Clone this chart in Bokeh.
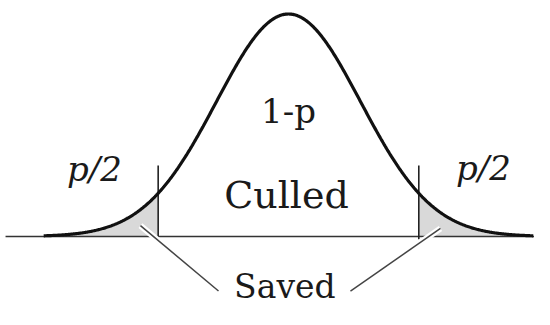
import numpy as np
from bokeh.plotting import figure
from bokeh.models import Range1d
from bokeh.embed import file_html
from bokeh.resources import INLINE
from bokeh.core.properties import value

# ---- data: a normal density (in SD units) truncated at +/- cutoff ----
MEAN = 0.0
SD = 1.0
CUTOFF = 1.81          # truncation point in SD units
CURVE_LIMIT = 3.4      # curve drawn out to +/- 3.4 SD
AXIS_LEFT = -3.93
AXIS_RIGHT = 3.6
CUT_TOP = 0.319        # height of the cutoff ticks (relative to peak = 1)

# labels
tail_labels = ["p/2", "p/2"]
tail_x = [-2.694, 2.708]
tail_y = [0.305, 0.310]

mid_labels = ["1-p"]
mid_x = [0.0]
mid_y = [0.566]

culled_labels = ["Culled"]
culled_x = [-0.028]
culled_y = [0.188]

saved_labels = ["Saved"]
saved_x = [-0.05]
saved_y = [-0.226]

# leader lines from the shaded tails to "Saved"
leader_x0 = [-2.056, 2.111]
leader_y0 = [0.049, 0.036]
leader_x1 = [-0.972, 0.861]
leader_y1 = [-0.245, -0.245]

# ---- build curve ----
z = np.linspace(MEAN - CURVE_LIMIT * SD, MEAN + CURVE_LIMIT * SD, 600)
dens = np.exp(-0.5 * ((z - MEAN) / SD) ** 2)

def pdf(v):
    return float(np.exp(-0.5 * ((v - MEAN) / SD) ** 2))

lmask = z <= -CUTOFF
lz = np.append(z[lmask], -CUTOFF)
ld = np.append(dens[lmask], pdf(-CUTOFF))
rmask = z >= CUTOFF
rz = np.insert(z[rmask], 0, CUTOFF)
rd = np.insert(dens[rmask], 0, pdf(CUTOFF))

p = figure(width=534, height=309, output_backend="svg", toolbar_location=None,
           x_range=Range1d(-4.0, 3.417), y_range=Range1d(-0.3281, 1.0607),
           x_axis_type=None, y_axis_type=None, min_border=0)
p.grid.visible = False
p.outline_line_color = None
p.background_fill_color = "white"

FILL = "#d9d9d9"
p.varea(x=lz, y1=np.zeros_like(lz), y2=ld, fill_color=FILL)
p.varea(x=rz, y1=np.zeros_like(rz), y2=rd, fill_color=FILL)

# baseline
p.segment(x0=[AXIS_LEFT], y0=[0], x1=[AXIS_RIGHT], y1=[0], line_color="#333333", line_width=1.6)

# cutoff ticks
p.segment(x0=[-CUTOFF, CUTOFF], y0=[-0.01, -0.012], x1=[-CUTOFF, CUTOFF], y1=[CUT_TOP, CUT_TOP],
          line_color="#222222", line_width=1.6)

# curve
p.line(z, dens, line_color="#111111", line_width=3.2)

# leaders with white halo
p.segment(x0=leader_x0, y0=leader_y0, x1=leader_x1, y1=leader_y1, line_color="white", line_width=6)
p.segment(x0=leader_x0, y0=leader_y0, x1=leader_x1, y1=leader_y1, line_color="#444444", line_width=1.5)

FONT = value("DejaVu Serif")
TXT = "#1a1a1a"
p.text(x=tail_x, y=tail_y, text=tail_labels, text_font=FONT, text_font_size="34px",
       text_font_style="italic", text_align="center", text_baseline="alphabetic", text_color=TXT)
p.text(x=mid_x, y=mid_y, text=mid_labels, text_font=FONT, text_font_size="34px",
       text_align="center", text_baseline="alphabetic", text_color=TXT)
p.text(x=culled_x, y=culled_y, text=culled_labels, text_font=FONT, text_font_size="38px",
       text_align="center", text_baseline="alphabetic", text_color=TXT)
p.text(x=saved_x, y=saved_y, text=saved_labels, text_font=FONT, text_font_size="33px",
       text_align="center", text_baseline="alphabetic", text_color=TXT)

open("out.html", "w").write(file_html(p, INLINE))
